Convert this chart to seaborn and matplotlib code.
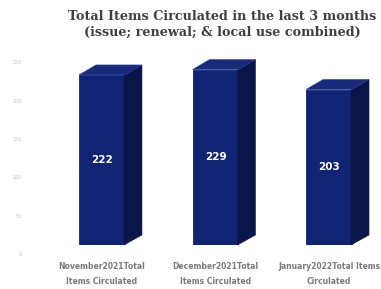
import matplotlib
matplotlib.use("Agg")
import matplotlib.pyplot as plt
import matplotlib.transforms as mtransforms
from matplotlib.patches import Polygon
import seaborn as sns
import pandas as pd

categories = ["November2021Total\nItems Circulated",
              "December2021Total\nItems Circulated",
              "January2022Total Items\nCirculated"]
values = [222, 229, 203]
yticks = [0, 50, 100, 150, 200, 250]
title = "Total Items Circulated in the last 3 months\n(issue; renewal; & local use combined)"

df = pd.DataFrame({"cat": categories, "val": values})

sns.set_theme(style="white")
plt.rcParams["font.family"] = ["DejaVu Sans"]

DPI = 100
fig = plt.figure(figsize=(3.81, 2.89), dpi=DPI)
fig.patch.set_facecolor("white")
ax = fig.add_axes([40/381, 44/289, 335/381, 195/289])
ax.set_facecolor("white")

front = "#112373"
side = "#0a154a"
top = "#172a7c"

sns.barplot(data=df, x="cat", y="val", color=front, saturation=1, width=0.405, ax=ax,
            zorder=3, linewidth=0, edgecolor="none")
ax.set_xlim(-0.546, 2.405)
ax.set_ylim(0, 195/0.766)

# 3D faces (offset in pixels)
dx, dy = 17, 10
fig.canvas.draw()
for p in ax.patches[:len(values)]:
    p.set_edgecolor(front)
    p.set_linewidth(0.6)
    x0, w, h = p.get_x(), p.get_width(), p.get_height()
    T = ax.transData.transform
    br = T((x0 + w, 0)); tl = T((x0, h)); tr = T((x0 + w, h))
    sidep = [(br[0]-1, br[1]), (tr[0]-1, tr[1]), (tr[0]+dx, tr[1]+dy), (br[0]+dx, br[1]+dy)]
    topp = [tl, tr, (tr[0]+dx, tr[1]+dy), (tl[0]+dx, tl[1]+dy)]
    fig.add_artist(Polygon(sidep, closed=True, transform=None, facecolor=side, edgecolor=side, lw=0.4, zorder=2))
    fig.add_artist(Polygon(topp, closed=True, transform=None, facecolor=top, edgecolor="#2c3d8c", lw=0.4, zorder=2))
    ax.text(x0 + w/2, h/2, f"{int(h)}", ha="center", va="center", color="white",
            fontsize=7.5, fontweight="bold", zorder=5)

for s in ax.spines.values():
    s.set_visible(False)

ax.set_yticks(yticks)
ax.set_yticklabels([str(t) for t in yticks])
ax.tick_params(axis="y", length=0, pad=13, labelsize=3.5, labelcolor="#c8c8c8")
for lab in ax.get_yticklabels():
    lab.set_transform(lab.get_transform() + mtransforms.ScaledTranslation(0, -9/DPI, fig.dpi_scale_trans))

ax.tick_params(axis="x", length=0, pad=12, labelsize=5.5, labelcolor="#7a7a7a")
for lab in ax.get_xticklabels():
    lab.set_linespacing(1.9)
    lab.set_fontweight("semibold")
ax.set_xlabel("")
ax.set_ylabel("")
ax.grid(False)

fig.text(222/381, 1 - 24/289, title, ha="center", va="center", fontsize=9.2,
         fontweight="bold", family="DejaVu Serif", color="#404040", linespacing=1.3)

fig.savefig("out.png", dpi=DPI)
